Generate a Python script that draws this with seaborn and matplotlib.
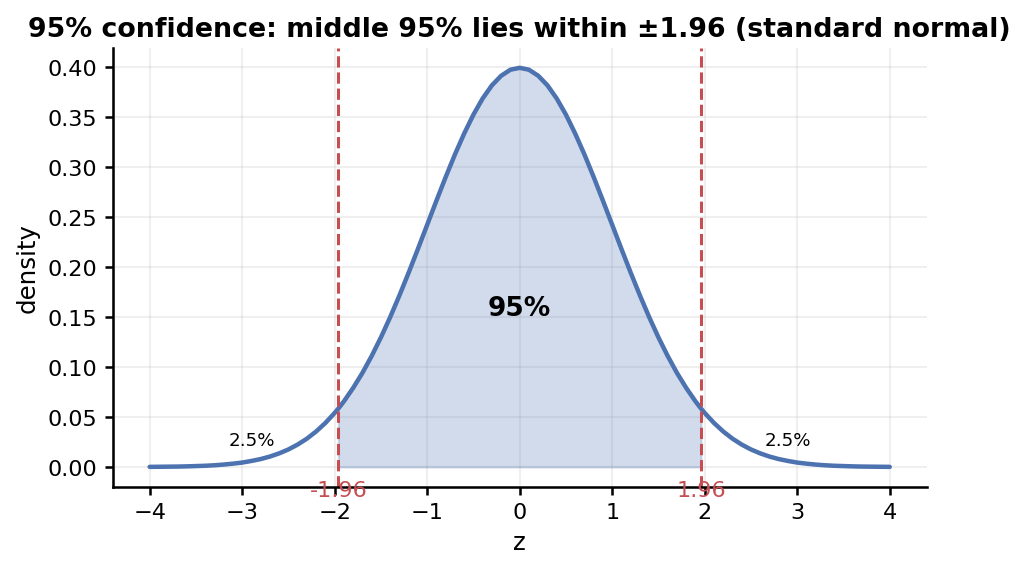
import numpy as np
import pandas as pd
import seaborn as sns
import matplotlib.pyplot as plt

# density of the curve (z from -4 to 4)
z_vals = [-4.0, -3.9, -3.8, -3.7, -3.6, -3.5, -3.4, -3.3, -3.2, -3.1,
          -3.0, -2.9, -2.8, -2.7, -2.6, -2.5, -2.4, -2.3, -2.2, -2.1,
          -2.0, -1.96, -1.9, -1.8, -1.7, -1.6, -1.5, -1.4, -1.3, -1.2, -1.1,
          -1.0, -0.9, -0.8, -0.7, -0.6, -0.5, -0.4, -0.3, -0.2, -0.1,
          0.0,
          0.1, 0.2, 0.3, 0.4, 0.5, 0.6, 0.7, 0.8, 0.9, 1.0,
          1.1, 1.2, 1.3, 1.4, 1.5, 1.6, 1.7, 1.8, 1.9, 1.96, 2.0,
          2.1, 2.2, 2.3, 2.4, 2.5, 2.6, 2.7, 2.8, 2.9, 3.0,
          3.1, 3.2, 3.3, 3.4, 3.5, 3.6, 3.7, 3.8, 3.9, 4.0]
density = [0.0001, 0.0002, 0.0003, 0.0004, 0.0006, 0.0009, 0.0012, 0.0017, 0.0024, 0.0033,
           0.0044, 0.0060, 0.0079, 0.0104, 0.0136, 0.0175, 0.0224, 0.0283, 0.0355, 0.0440,
           0.0540, 0.0584, 0.0656, 0.0790, 0.0940, 0.1109, 0.1295, 0.1497, 0.1714, 0.1942, 0.2179,
           0.2420, 0.2661, 0.2897, 0.3123, 0.3332, 0.3521, 0.3683, 0.3814, 0.3910, 0.3970,
           0.3989,
           0.3970, 0.3910, 0.3814, 0.3683, 0.3521, 0.3332, 0.3123, 0.2897, 0.2661, 0.2420,
           0.2179, 0.1942, 0.1714, 0.1497, 0.1295, 0.1109, 0.0940, 0.0790, 0.0656, 0.0584, 0.0540,
           0.0440, 0.0355, 0.0283, 0.0224, 0.0175, 0.0136, 0.0104, 0.0079, 0.0060, 0.0044,
           0.0033, 0.0024, 0.0017, 0.0012, 0.0009, 0.0006, 0.0004, 0.0003, 0.0002, 0.0001]

crit = 1.96
center_label = "95%"
tail_label = "2.5%"

df = pd.DataFrame({"z": z_vals, "density": density})

sns.set_theme(style="ticks", context="notebook")
plt.rcParams.update({
    "text.color": "black",
    "axes.labelcolor": "black",
    "axes.edgecolor": "black",
    "xtick.color": "black",
    "ytick.color": "black",
    "xtick.major.size": 4,
    "ytick.major.size": 4,
})
blue = "#4C72B0"
red = "#C44E52"

fig, ax = plt.subplots(figsize=(7.0, 3.903), dpi=146.2857)
fig.subplots_adjust(left=0.110, right=0.905, bottom=0.1455, top=0.9145)

sns.lineplot(data=df, x="z", y="density", color=blue, linewidth=2.2, ax=ax)

mid = df[(df.z >= -crit) & (df.z <= crit)]
ax.fill_between(mid.z, 0, mid.density, color=blue, alpha=0.25)

for c in (-crit, crit):
    ax.axvline(c, color=red, linestyle="--", linewidth=1.5)
    ax.text(c, -0.023, f"{c:.2f}", color=red, ha="center", va="center",
            fontsize=11, clip_on=False)

ax.text(0, 0.159, center_label, ha="center", va="center", fontsize=13, fontweight="bold")
ax.text(-2.9, 0.027, tail_label, ha="center", va="center", fontsize=9)
ax.text(2.9, 0.027, tail_label, ha="center", va="center", fontsize=9)

ax.grid(True, alpha=0.3)
ax.set_title("95% confidence: middle 95% lies within \u00b11.96 (standard normal)",
             fontweight="bold", fontsize=13.2)
ax.set_xlabel("z")
ax.set_ylabel("density")
sns.despine(ax=ax)

fig.savefig("out.png", dpi=146.2857)
